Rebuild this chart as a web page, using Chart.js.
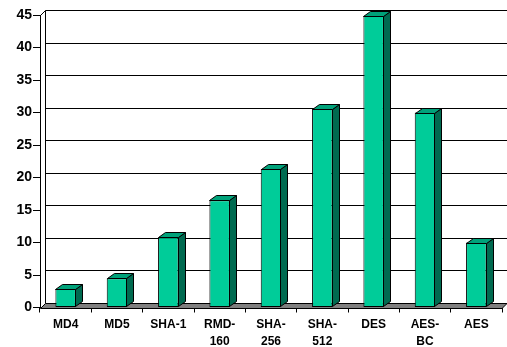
<!DOCTYPE html>
<html>
<head>
<meta charset="utf-8">
<script src="https://cdn.jsdelivr.net/npm/chart.js@4/dist/chart.umd.min.js"></script>
<style>
  html, body { margin: 0; padding: 0; background: #fff; overflow: hidden; }
  #wrap { width: 507px; height: 347px; }
</style>
</head>
<body>
<div id="wrap"><canvas id="chart" width="507" height="347"></canvas></div>
<script>
// Algorithms on the x axis (multi-line names are split into rows)
const categories = [
  ['MD4'], ['MD5'], ['SHA-1'], ['RMD-', '160'], ['SHA-', '256'],
  ['SHA-', '512'], ['DES'], ['AES-', 'BC'], ['AES']
];
// Measured value per algorithm
const timings = [2.85, 4.5, 10.8, 16.5, 21.3, 30.6, 44.9, 30, 10];
// Value axis ticks
const yTickValues = [0, 5, 10, 15, 20, 25, 30, 35, 40, 45];

const FONT = '"Liberation Sans", Arial, sans-serif';
const WALL_DX = 5, WALL_DY = -5;   // depth of back wall / floor
const BAR_DX = 7, BAR_DY = -5;     // depth of each column

const crisp = v => Math.round(v) + 0.5;

// Back wall with gridlines, plus the grey floor, drawn behind the columns
const wallAndFloor = {
  id: 'wallAndFloor',
  beforeDatasetsDraw(chart) {
    const { ctx, chartArea: a, scales: { y } } = chart;
    ctx.save();
    ctx.strokeStyle = '#000';
    ctx.lineWidth = 1;
    // gridlines on the back wall
    yTickValues.forEach(v => {
      const py = crisp(y.getPixelForValue(v) + WALL_DY);
      ctx.beginPath();
      ctx.moveTo(crisp(a.left + WALL_DX), py);
      ctx.lineTo(a.right + WALL_DX + 10, py);
      ctx.stroke();
    });
    // left edge of back wall and top connector
    const top = y.getPixelForValue(yTickValues[yTickValues.length - 1]);
    const bot = y.getPixelForValue(0);
    ctx.beginPath();
    ctx.moveTo(crisp(a.left + WALL_DX), crisp(top + WALL_DY));
    ctx.lineTo(crisp(a.left + WALL_DX), crisp(bot + WALL_DY));
    ctx.stroke();
    ctx.beginPath();
    ctx.moveTo(crisp(a.left), crisp(top));
    ctx.lineTo(crisp(a.left + WALL_DX), crisp(top + WALL_DY));
    ctx.stroke();
    // floor
    ctx.beginPath();
    ctx.moveTo(crisp(a.left), crisp(bot));
    ctx.lineTo(a.right, crisp(bot));
    ctx.lineTo(a.right + WALL_DX, crisp(bot + WALL_DY));
    ctx.lineTo(crisp(a.left + WALL_DX), crisp(bot + WALL_DY));
    ctx.closePath();
    ctx.fillStyle = '#7f7f7f';
    ctx.fill();
    ctx.stroke();
    ctx.restore();
  }
};

// Side and top faces that give each column its depth
const columnFaces = {
  id: 'columnFaces',
  afterDatasetsDraw(chart) {
    const { ctx } = chart;
    const meta = chart.getDatasetMeta(0);
    ctx.save();
    ctx.strokeStyle = '#000';
    ctx.lineWidth = 1;
    ctx.lineJoin = 'miter';
    meta.data.forEach(bar => {
      const { x, y, base, width } = bar.getProps(['x', 'y', 'base', 'width'], true);
      const l = Math.round(x - width / 2) + 0.5;
      const r = Math.round(x + width / 2) - 0.5;
      const t = Math.round(y) + 0.5;
      const b = Math.round(base) - 0.5;
      // side
      ctx.beginPath();
      ctx.moveTo(r, t);
      ctx.lineTo(r + BAR_DX, t + BAR_DY);
      ctx.lineTo(r + BAR_DX, b + BAR_DY);
      ctx.lineTo(r, b);
      ctx.closePath();
      ctx.fillStyle = '#006a50';
      ctx.fill();
      ctx.stroke();
      // top
      ctx.beginPath();
      ctx.moveTo(l, t);
      ctx.lineTo(l + BAR_DX, t + BAR_DY);
      ctx.lineTo(r + BAR_DX, t + BAR_DY);
      ctx.lineTo(r, t);
      ctx.closePath();
      ctx.fillStyle = '#00a27a';
      ctx.fill();
      ctx.stroke();
    });
    ctx.restore();
  }
};

new Chart(document.getElementById('chart'), {
  type: 'bar',
  data: {
    labels: categories,
    datasets: [{
      data: timings,
      backgroundColor: '#00cc99',
      borderColor: '#000',
      borderWidth: 1,
      borderSkipped: false,
      categoryPercentage: 1,
      barPercentage: 0.4
    }]
  },
  options: {
    responsive: false,
    animation: false,
    devicePixelRatio: 1,
    layout: { padding: { top: 15, right: 5, left: 0, bottom: 0 } },
    plugins: { legend: { display: false }, tooltip: { enabled: false } },
    scales: {
      x: {
        afterFit(scale) { scale.height = 39.5; },
        grid: { offset: true, drawOnChartArea: false, tickLength: 5, color: '#000' },
        border: { display: false },
        ticks: {
          autoSkip: false, maxRotation: 0, minRotation: 0, padding: 3,
          color: '#000',
          font: { family: FONT, size: 12, weight: 'bold', lineHeight: 1.45 }
        }
      },
      y: {
        min: 0, max: 45,
        afterFit(scale) { scale.width = 40; },
        afterBuildTicks(scale) { scale.ticks = yTickValues.map(v => ({ value: v })); },
        grid: { drawOnChartArea: false, tickLength: 7, color: '#000' },
        border: { display: true, color: '#000', width: 1 },
        ticks: {
          padding: 1, color: '#000',
          font: { family: FONT, size: 14, weight: 'bold' }
        }
      }
    }
  },
  plugins: [wallAndFloor, columnFaces]
});
</script>
</body>
</html>
